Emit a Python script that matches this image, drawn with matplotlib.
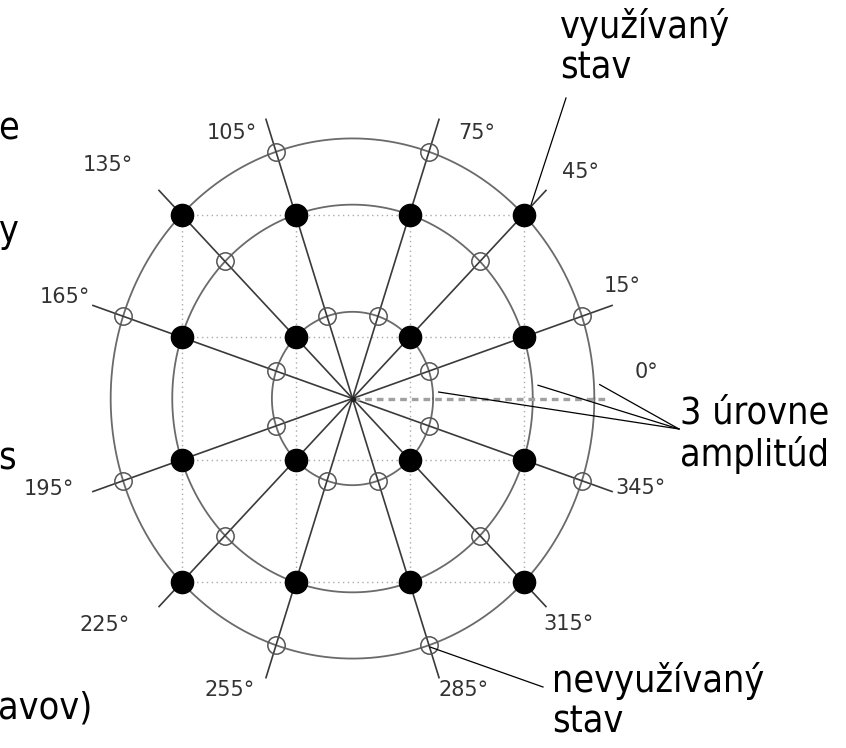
import numpy as np
import matplotlib
matplotlib.use('Agg')
import matplotlib.pyplot as plt

# ── data ─────────────────────────────────────────────────────────────────────
iq_levels = [-3, -1, 1, 3]                 # 16-QAM grid levels (I and Q)
ring_power = [2, 10, 18]                   # |s|^2 of the 3 amplitude levels
angle_labels = [0, 15, 45, 75, 105, 135, 165, 195, 225, 255, 285, 315, 345]

# label anchor positions (layout only, pixels from top-left)
label_px = {0: (646, 372), 15: (622, 286), 45: (580, 172), 75: (477, 133),
            105: (232, 133), 135: (108, 165), 165: (65, 297),
            195: (49, 489), 225: (105, 625), 255: (230, 690),
            285: (464, 690), 315: (568, 624), 345: (640, 488)}

# ── geometry ─────────────────────────────────────────────────────────────────
W, H = 846, 748
cx, cy = 352.5, 398.5          # centre in pixels
ux, uy = 57.0, 61.3            # pixels per unit


def px(x, y):
    return ((x - cx) / ux, (cy - y) / uy)


fig = plt.figure(figsize=(W / 100, H / 100), dpi=100)
ax = fig.add_axes([0, 0, 1, 1])
ax.set_xlim(-cx / ux, (W - cx) / ux)
ax.set_ylim((cy - H) / uy, cy / uy)
ax.axis('off')

pts = np.array([(i, q) for i in iq_levels for q in iq_levels], dtype=float)
radii = np.sqrt(ring_power)
spoke_ang = np.unique(np.round(np.arctan2(pts[:, 1], pts[:, 0]), 6))
spoke_len = 4.8

# dotted grid
lo, hi = min(iq_levels), max(iq_levels)
for v in iq_levels:
    ax.plot([lo, hi], [v, v], color='#aaaaaa', lw=1.0, ls=(0, (1, 2.5)), zorder=1)
    ax.plot([v, v], [lo, hi], color='#aaaaaa', lw=1.0, ls=(0, (1, 2.5)), zorder=1)

# rings
t = np.linspace(0, 2 * np.pi, 400)
for r in radii:
    ax.plot(r * np.cos(t), r * np.sin(t), color='#6a6a6a', lw=1.3, zorder=2)

# spokes
for a in spoke_ang:
    ax.plot([0, spoke_len * np.cos(a)], [0, spoke_len * np.sin(a)],
            color='#3a3a3a', lw=1.2, zorder=3)

# 0° reference (dashed)
ax.plot([0, 4.47], [0, 0], color='#a0a0a0', lw=2.4, ls=(0, (2, 1.5)), zorder=3)
ax.plot(0, 0, 'o', color='#222222', ms=3, zorder=4)

# unused states (spoke x ring crossings without a point)
hollow = []
for a in spoke_ang:
    for r in radii:
        p = np.array([r * np.cos(a), r * np.sin(a)])
        if np.min(np.hypot(*(pts - p).T)) > 1e-6:
            hollow.append(p)
hollow = np.array(hollow)
ax.plot(hollow[:, 0], hollow[:, 1], 'o', ms=12.5, mfc='none', mec='#555555',
        mew=1.1, zorder=5)

# used states
ax.plot(pts[:, 0], pts[:, 1], 'o', ms=16, color='black', zorder=6)

# angle labels
for ang in angle_labels:
    ax.text(*px(*label_px[ang]), f'{ang}°', ha='center', va='center',
            fontsize=15, color='#333333', zorder=7)

# ── annotations ──────────────────────────────────────────────────────────────
tfont = dict(fontsize=27, color='black', family='DejaVu Sans',
             fontstretch='condensed', linespacing=1.15)

ax.text(*px(560, 8), 'využívaný\nstav', ha='left', va='top', **tfont)
ax.plot(*zip(px(531, 205), px(566, 98)), color='black', lw=0.9, zorder=8)

ax.text(*px(680, 395), '3 úrovne\namplitúd', ha='left', va='top', **tfont)
conv = px(679, 429)
for r, da in zip(radii, [4.0, 3.8, 3.0]):
    a = np.deg2rad(da)
    end = ((r + 0.1) * np.cos(a), (r + 0.1) * np.sin(a))
    ax.plot([conv[0], end[0]], [conv[1], end[1]], color='black', lw=0.9, zorder=8)

ax.text(*px(552, 662), 'nevyužívaný\nstav', ha='left', va='top', **tfont)
ax.plot(*zip(px(430, 647), px(543, 687)), color='black', lw=0.9, zorder=8)

# fragments of the slide text cut off on the left
for s, y in [('e', 130), ('y', 232), ('s', 460), ('avov)', 708)]:
    ax.text(*px(-2, y), s, ha='left', va='center', **tfont)

fig.savefig('out.png', dpi=100)
